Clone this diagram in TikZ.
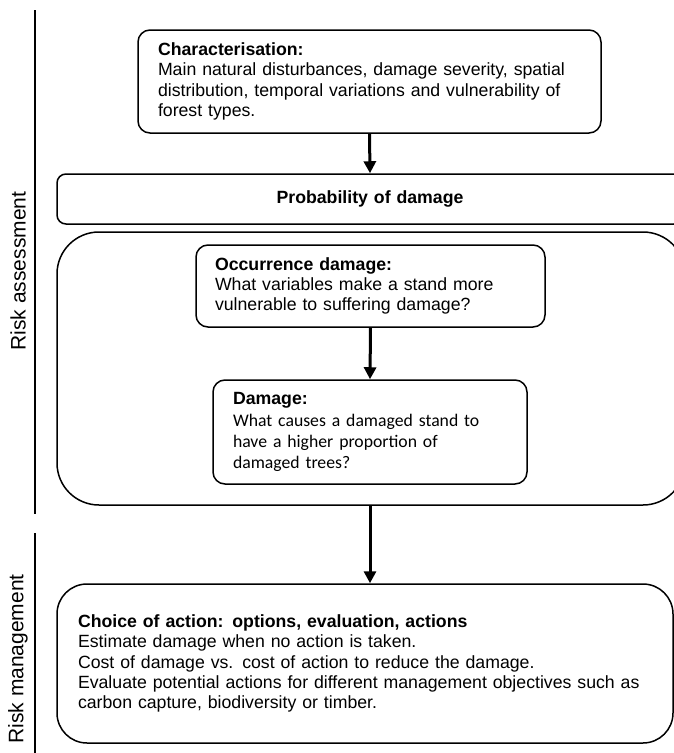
\documentclass[tikz,border=0pt]{standalone}
\usepackage{fontspec}
\setmainfont{Liberation Sans}
\newfontfamily\calibrifont{Carlito}
\usetikzlibrary{arrows.meta}

\begin{document}
\begin{tikzpicture}[x=1pt,y=-1pt,
    box/.style={draw,line width=1.5pt,rounded corners=12pt,align=left,inner xsep=20pt,inner ysep=0pt,font=\fontsize{17.7}{20.2}\selectfont},
    flow/.style={-{Triangle[length=12pt,width=12pt]},line width=3pt},
    side/.style={line width=1.8pt},
    sidelabel/.style={rotate=90,font=\fontsize{21}{24}\selectfont}]
    \useasboundingbox (0,0) rectangle (674,753);
    \clip (0,0) rectangle (674,753);
    %\draw [black!20,step=50] (0,0) grid (674,753);
    % side bars
    \coordinate (ra top) at (35,10);
    \coordinate (ra bot) at (35,514);
    \coordinate (rm top) at (35,533);
    \coordinate (rm bot) at (35,753);
    \draw [side] (ra top) -- (ra bot);
    \draw [side] (rm top) -- (rm bot);
    \node (assess) [sidelabel] at (18,271) {Risk assessment};
    \node (manage) [sidelabel] at (18,659) {Risk management};
    % boxes
    \node (char) [box,text width=423pt,minimum height=103pt] at (369.5,81.5)
        {\textbf{Characterisation:}\\
         Main natural disturbances, damage severity, spatial\\
         distribution, temporal variations and vulnerability of\\
         forest types.};
    \node (prob) [box,rounded corners=9pt,align=center,text width=586pt,minimum height=50pt] at (370,199)
        {\textbf{Probability of damage}};
    \node (frame) [draw,line width=1.5pt,rounded corners=42pt,minimum width=628pt,minimum height=273pt] at (371,368.5) {};
    \node (occ) [box,inner xsep=19pt,text width=311pt,minimum height=82pt] at (370.5,286)
        {\textbf{Occurrence damage:}\\
         What variables make a stand more\\
         vulnerable to suffering damage?};
    \node (dmg) [box,text width=274pt,minimum height=104pt] at (370,432)
        {\textbf{Damage:}\\
         \calibrifont\fontsize{17.7}{21.5}\selectfont What causes a damaged stand to\\
         have a higher proportion of\\
         damaged trees?};
    \node (choice) [box,rounded corners=30pt,inner xsep=21pt,text width=574pt,minimum height=159pt] at (365,663.5)
        {\textbf{Choice of action: options, evaluation, actions}\\
         Estimate damage when no action is taken.\\
         Cost of damage vs. cost of action to reduce the damage.\\
         Evaluate potential actions for different management objectives such as\\
         carbon capture, biodiversity or timber.};
    % arrows
    \draw [flow] (char.south) -- (prob.north);
    \draw [flow] (occ.south) -- (dmg.north);
    \draw [flow] (frame.south -| prob.north) -- (choice.north -| prob.north);
\end{tikzpicture}
\end{document}
